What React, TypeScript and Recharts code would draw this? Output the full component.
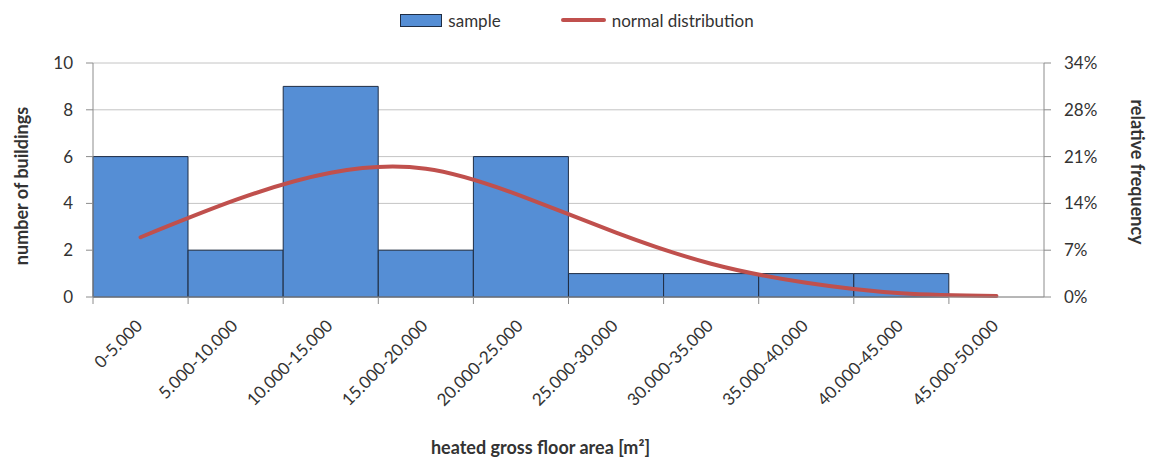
import React from 'react';
import { ComposedChart, Bar, Line, XAxis, YAxis, CartesianGrid, Legend } from 'recharts';

const categories = [
  '0-5.000', '5.000-10.000', '10.000-15.000', '15.000-20.000', '20.000-25.000',
  '25.000-30.000', '30.000-35.000', '35.000-40.000', '40.000-45.000', '45.000-50.000',
];
const buildingCounts = [6, 2, 9, 2, 6, 1, 1, 1, 1, 0];
// normal distribution curve, in % of all buildings
const normalPct = [8.8, 14.3, 18.3, 18.9, 14.9, 9.5, 4.9, 2.1, 0.55, 0.14];
const countTicks = [0, 2, 4, 6, 8, 10];
const pctTickLabels = ['0%', '7%', '14%', '21%', '28%', '34%'];
const legendOrder = ['sample', 'normal'];

const total = buildingCounts.reduce((a, b) => a + b, 0);
const pctTicks = countTicks.map((c) => (c / total) * 100);

const data = categories.map((name, i) => ({
  name,
  sample: buildingCounts[i],
  normal: normalPct[i],
}));

const FONT = 'Lato, "Noto Sans", sans-serif';
const TEXT = '#333333';
const AXIS = '#8c8c8c';
const GRID = '#c4c4c4';
const BLUE = '#558ED5';
const BAR_EDGE = '#1f2d44';
const RED = '#C0504D';

const XTick = (props: any) => {
  const { x, y, payload, width, visibleTicksCount } = props;
  const band = width && visibleTicksCount ? width / visibleTicksCount : 95.1;
  const tx = x + 3;
  const ty = y + 30;
  return (
    <g>
      <line x1={x - band / 2} x2={x - band / 2} y1={y} y2={y + 7} stroke={AXIS} />
      <text
        x={tx}
        y={ty}
        transform={`rotate(-45, ${tx}, ${ty})`}
        textAnchor="end"
        fill={TEXT}
        fontSize={17}
        fontFamily={FONT}
      >
        {payload.value}
      </text>
    </g>
  );
};

const LegendContent = (props: any) => {
  const items = [...(props.payload || [])].sort(
    (a: any, b: any) => legendOrder.indexOf(a.dataKey) - legendOrder.indexOf(b.dataKey)
  );
  return (
    <div
      style={{
        height: 30,
        display: 'flex',
        justifyContent: 'center',
        alignItems: 'center',
        gap: 60,
        fontFamily: FONT,
        fontSize: 17,
        color: TEXT,
      }}
    >
      {items.map((it: any) => (
        <div key={it.value} style={{ display: 'flex', alignItems: 'center', gap: 6 }}>
          {it.dataKey === 'sample' ? (
            <span
              style={{
                display: 'inline-block',
                width: 40,
                height: 11,
                background: BLUE,
                border: `1px solid ${BAR_EDGE}`,
              }}
            />
          ) : (
            <span
              style={{
                display: 'inline-block',
                width: 45,
                height: 4,
                background: RED,
                borderRadius: 2,
              }}
            />
          )}
          <span>{it.value}</span>
        </div>
      ))}
    </div>
  );
};

export default function App() {
  return (
    <div style={{ position: 'absolute', left: 0, top: 0, width: 1154, height: 459, background: '#fff' }}>
      <ComposedChart
        width={1154}
        height={459}
        data={data}
        barCategoryGap={0}
        margin={{ top: 33, right: 0, bottom: 0, left: 0 }}
      >
        <Legend
          verticalAlign="top"
          align="center"
          content={<LegendContent />}
          wrapperStyle={{ top: 5, left: 0, width: 1154 }}
        />
        <CartesianGrid horizontal vertical={false} stroke={GRID} yAxisId="left" />
        <XAxis
          dataKey="name"
          height={162}
          stroke={AXIS}
          tickLine={false}
          tickSize={0}
          tickMargin={0}
          interval={0}
          tick={<XTick />}
          label={{
            value: 'heated gross floor area [m²]',
            position: 'insideBottom',
            offset: 5,
            dx: -28,
            fill: TEXT,
            fontSize: 18,
            fontWeight: 'bold',
            fontFamily: FONT,
          }}
        />
        <YAxis
          yAxisId="left"
          orientation="left"
          width={93}
          domain={[0, countTicks[countTicks.length - 1]]}
          ticks={countTicks}
          stroke={AXIS}
          tickSize={7}
          tickMargin={13}
          tick={{ fill: TEXT, fontSize: 17, fontFamily: FONT }}
          label={{
            value: 'number of buildings',
            angle: -90,
            position: 'insideLeft',
            offset: 0,
            dx: 22,
            dy: 6,
            fill: TEXT,
            fontSize: 18,
            fontWeight: 'bold',
            fontFamily: FONT,
            style: { textAnchor: 'middle' },
          }}
        />
        <YAxis
          yAxisId="right"
          orientation="right"
          width={110}
          domain={[0, pctTicks[pctTicks.length - 1]]}
          ticks={pctTicks}
          tickFormatter={(_v: number, i: number) => pctTickLabels[i]}
          stroke={AXIS}
          tickSize={7}
          tickMargin={13}
          tick={{ fill: TEXT, fontSize: 17, fontFamily: FONT }}
          label={{
            value: 'relative frequency',
            angle: 90,
            position: 'insideRight',
            offset: 0,
            dx: -17,
            dy: -8,
            fill: TEXT,
            fontSize: 18,
            fontWeight: 'bold',
            fontFamily: FONT,
            style: { textAnchor: 'middle' },
          }}
        />
        <Bar
          yAxisId="left"
          dataKey="sample"
          name="sample"
          fill={BLUE}
          stroke={BAR_EDGE}
          strokeWidth={1}
          isAnimationActive={false}
        />
        <Line
          yAxisId="right"
          dataKey="normal"
          name="normal distribution"
          type="natural"
          stroke={RED}
          strokeWidth={4}
          strokeLinecap="round"
          dot={false}
          activeDot={false}
          isAnimationActive={false}
        />
      </ComposedChart>
    </div>
  );
}
